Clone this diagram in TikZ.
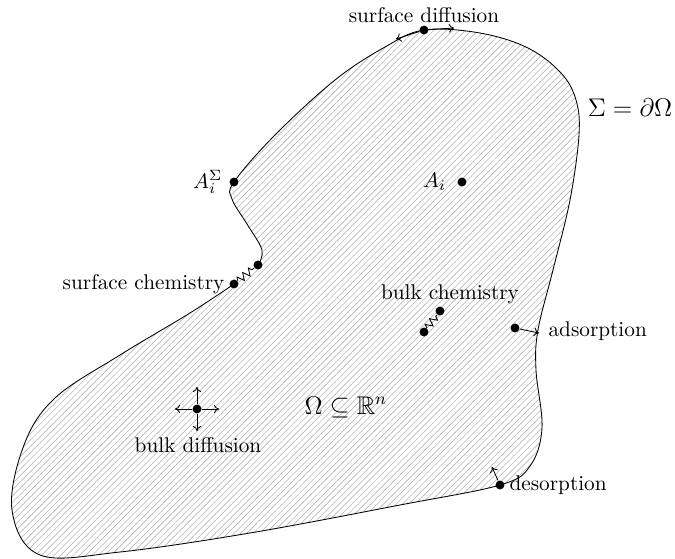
\documentclass[tikz,border=0pt]{standalone}
\usepackage{amsmath,amssymb}
\usetikzlibrary{arrows.meta,patterns.meta,decorations.pathmorphing,positioning}

% boundary points, from the upper reaction site round to the lower one
\def\domainpts{(258,265) (262,250) (247,224) (232,199) (234,182) (275,135) (335,80) (385,47)
  (424,30) (480,33) (528,48) (561,73) (576,100) (579,135) (570,200) (553,270) (538,330) (536,370)
  (542,428) (530,466) (500,485) (400,505) (250,533) (120,552) (40,555) (12,510) (24,445)
  (55,398) (120,355) (190,313) (234,284)}

\begin{document}
\begin{tikzpicture}[x=0.47pt, y=-0.47pt,
    dot/.style={circle, fill=black, inner sep=0pt, minimum size=4.2pt},
    lbl/.style={inner sep=1pt},
    arr/.style={-{To[length=2.4pt,width=4pt]}},
    react/.style={decorate, decoration={zigzag, segment length=3.4pt, amplitude=1.7pt}}
]
\useasboundingbox (0,0) rectangle (675,559);

% the domain
\fill[pattern={Lines[angle=45,distance=2.1pt,line width=0.3pt]}, pattern color=black!28]
  plot[smooth cycle, tension=0.6] coordinates {\domainpts};
\draw plot[smooth, tension=0.6] coordinates {\domainpts};

\node[dot] (sd) at (424,30) {};
\node[dot] (asig) at (234,182) {};
\node[dot] (ai) at (462,182) {};
\node[dot] (sc1) at (234,284) {};
\node[dot] (sc2) at (258,265) {};
\node[dot] (bc1) at (424,332) {};
\node[dot] (bc2) at (440,311) {};
\node[dot] (ad) at (515,328) {};
\node[dot] (bd) at (197,409) {};
\node[dot] (de) at (500,485) {};

\coordinate (sdl) at (396,39);
\coordinate (sdr) at (454,28);
\coordinate (adt) at (539,333);
\coordinate (det) at (492,467);
\coordinate (bdu) at (197,387);
\coordinate (bdd) at (197,431);
\coordinate (bdl) at (175,409);
\coordinate (bdr) at (219,409);

\node[lbl, above=0pt of sd] {surface diffusion};
\node[font=\large] at (630,108) {$\Sigma=\partial\Omega$};
\node[lbl, left=2pt of asig] {$A_i^\Sigma$};
\node[lbl, left=4pt of ai] {$A_i$};
\node[lbl, left=1pt of sc1] {surface chemistry};
\node[lbl] at (450,294) {bulk chemistry};
\node[lbl, anchor=west] at (546,331) {adsorption};
\node[lbl] at (198,445) {bulk diffusion};
\node[font=\large] at (346,407) {$\Omega\subseteq\mathbb{R}^n$};
\node[lbl, right=1pt of de] {desorption};

\draw[react] (sc1) -- (sc2);
\draw[react] (bc1) -- (bc2);
\draw[arr] (sd) -- (sdl);
\draw[arr] (sd) -- (sdr);
\draw[arr] (ad) -- (adt);
\draw[arr] (de) -- (det);
\foreach \t in {bdu,bdd,bdl,bdr}
  \draw[arr] (bd) -- (\t);
\end{tikzpicture}
\end{document}
